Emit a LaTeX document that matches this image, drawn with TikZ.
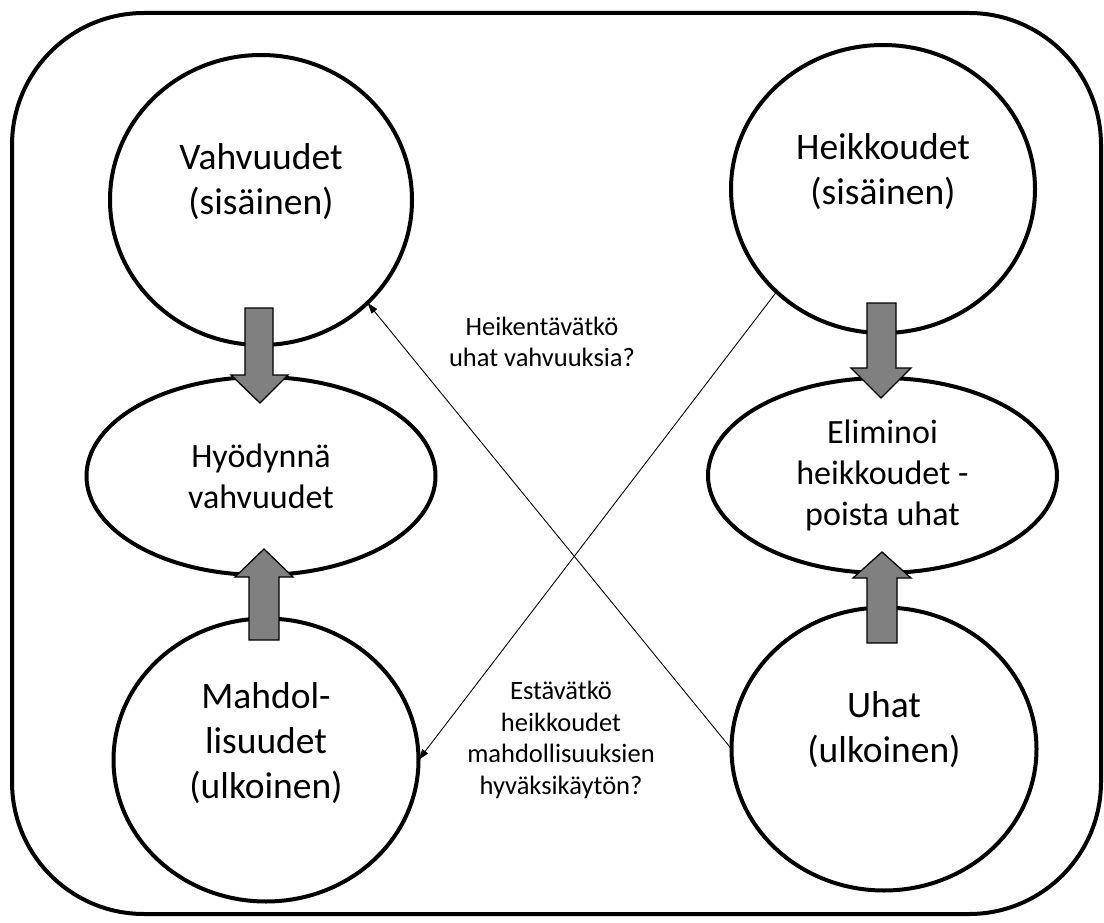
\documentclass[tikz,border=0pt]{standalone}
\usepackage{fontspec}
\setmainfont{Carlito}
\usetikzlibrary{shapes.geometric,arrows.meta}
\definecolor{arrowgray}{HTML}{808080}
\begin{document}
\begin{tikzpicture}[x=1pt,y=-1pt,
  frame/.style={line width=4pt, rounded corners=132pt},
  bubble/.style={ellipse, draw, line width=4pt, inner sep=0pt, outer sep=0pt, fill=white},
  bigtxt/.style={font=\fontsize{37.5}{45}\selectfont, align=center},
  midtxt/.style={font=\fontsize{34}{41}\selectfont, align=center},
  smalltxt/.style={font=\fontsize{26.5}{31.7}\selectfont, align=center},
  blockarrow/.style={fill=arrowgray, draw=black, line width=1.3pt, line join=miter},
  link/.style={line width=0.9pt, -{Triangle[length=11pt,width=7pt]}}
]
\useasboundingbox (0,0) rectangle (1104,923);
\draw[frame] (12,13) rectangle (1101,914);

% circles
\node[bubble, minimum width=302pt, minimum height=290pt] (V) at (261,200) {};
\node[bigtxt] (Vt) at (261,182) {Vahvuudet\\(sisäinen)};
\node[bubble, minimum width=304pt, minimum height=288pt] (H) at (883,189) {};
\node[bigtxt] (Ht) at (883,172) {Heikkoudet\\(sisäinen)};
\node[bubble, minimum width=305pt, minimum height=283pt] (M) at (266,760) {};
\node[bigtxt] (Mt) at (266,743) {Mahdol-\\lisuudet\\(ulkoinen)};
\node[bubble, minimum width=305pt, minimum height=283pt] (U) at (884,749) {};
\node[bigtxt] (Ut) at (884,730) {Uhat\\(ulkoinen)};

% ellipses
\node[bubble, midtxt, minimum width=349pt, minimum height=198pt] (Hy) at (261,476) {Hyödynnä\\vahvuudet};
\node[bubble, midtxt, minimum width=349pt, minimum height=195pt] (E) at (882.5,475.5) {Eliminoi\\heikkoudet -\\poista uhat};

% thin connectors
\draw[link] (U.west) -- (V.-44);
\draw[link] (H.224) -- (M.east);

% labels
\node[smalltxt] (q1) at (542,342) {Heikentävätkö\\uhat vahvuuksia?};
\node[smalltxt] (q2) at (561,740) {Estävätkö\\heikkoudet\\mahdollisuuksien\\hyväksikäytön?};

% block arrows
\draw[blockarrow] (245,308) -- (273,308) -- (273,375) -- (288,375) -- (260,403) -- (231,375) -- (245,375) -- cycle;
\draw[blockarrow] (249,640) -- (279,640) -- (279,577) -- (293,577) -- (264,549) -- (235,577) -- (249,577) -- cycle;
\draw[blockarrow] (867,303) -- (896,303) -- (896,368) -- (911,368) -- (881,398) -- (851,368) -- (867,368) -- cycle;
\draw[blockarrow] (867,643) -- (897,643) -- (897,578) -- (911,578) -- (882,552) -- (853,578) -- (867,578) -- cycle;
\end{tikzpicture}
\end{document}
